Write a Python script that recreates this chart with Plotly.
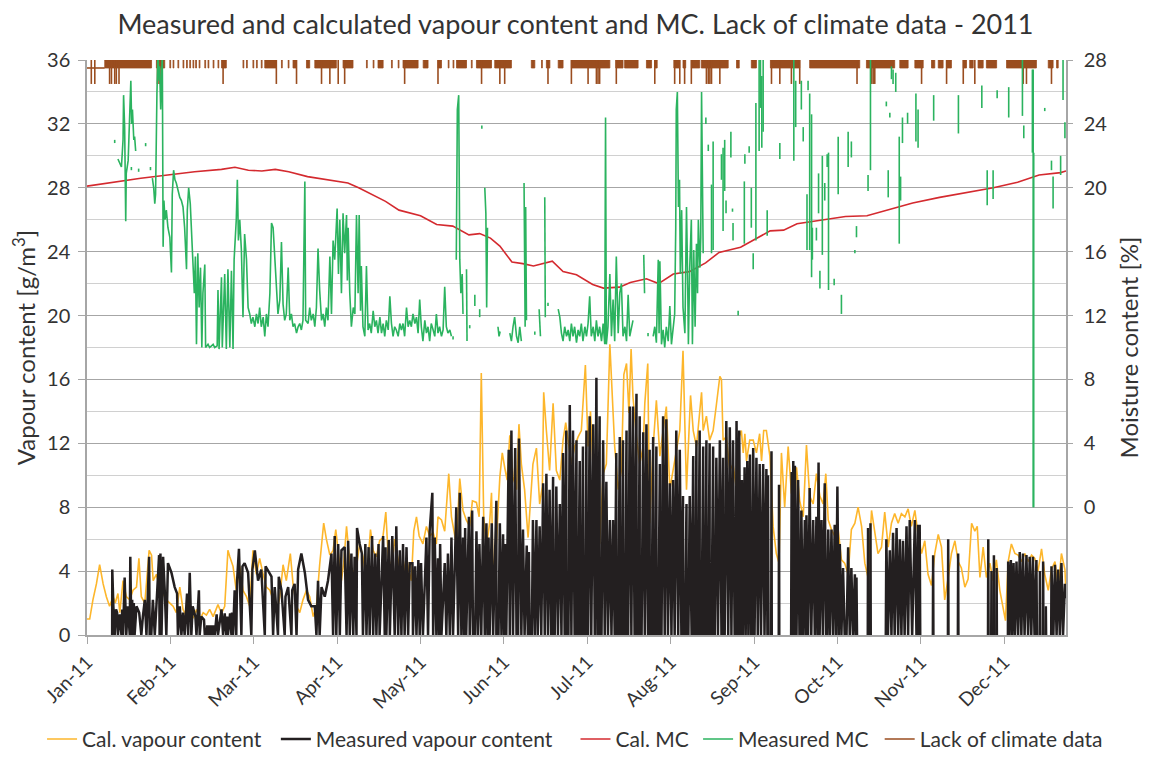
from datetime import datetime, timedelta
import plotly.graph_objects as go

START = datetime(2011, 1, 1)

# Cal. vapour content [g/m3]  (day of year offset, value)
CAL_VAPOUR = [
    (0, 1.0), (1, 1.0), (2.2, 2.2), (3.5, 3.2), (4.7, 4.4), (6, 3.2), (7.2, 2.4), (8.4, 1.8), (9.7, 2.4),
    (10.5, 2.0), (11.5, 2.6), (12.2, 1.4), (13.4, 3.4), (14.6, 2.4), (15.9, 2.2), (17.1, 2.8), (18.4, 3.0),
    (19.3, 4.8), (20.2, 2.4), (21.5, 2.0), (23.1, 5.3), (24, 5.0), (24.6, 3.4), (25.8, 3.8), (27, 3.0),
    (28.3, 2.6), (29.5, 2.2), (30.8, 2.0), (32, 1.8), (33.2, 1.4), (34.5, 3.0), (35.7, 1.6), (37, 1.15),
    (38.2, 1.4), (39.4, 1.05), (40.7, 1.6), (41.9, 0.95), (43.2, 1.4), (44.4, 1.25), (45.6, 1.6), (46.9, 1.15),
    (48.7, 1.9), (50, 1.35), (51.2, 1.8), (52.4, 5.3), (53.1, 4.9), (54.3, 4.3), (55.5, 2.8), (56.8, 4.3),
    (58, 2.8), (59.3, 2.4), (60.5, 1.8), (61.7, 5.3), (63, 3.8), (64.2, 4.8), (65.5, 3.8), (66.7, 3.0),
    (68, 2.8), (69.2, 2.2), (70.4, 1.4), (71.7, 2.4), (72.9, 4.4), (74.1, 3.4), (75.6, 5.1), (76.6, 3.2),
    (77.9, 1.8), (79.1, 1.4), (80.3, 2.2), (81.6, 2.8), (82.8, 2.4), (84.1, 1.15), (85.3, 1.8), (86.5, 4.4),
    (88, 7.0), (89, 6.0), (90.3, 5.0), (91.5, 5.3), (92.5, 6.6), (93.4, 5.1), (94.6, 3.4), (95.5, 4.6),
    (96.5, 6.8), (97.7, 4.5), (99, 3.9), (100.2, 4.3), (101.4, 5.7), (102.6, 4.9), (103.9, 3.4), (105.4, 6.6),
    (106.4, 5.3), (107.6, 4.9), (108.8, 5.9), (110, 6.1), (111.1, 7.7), (112, 4.9), (113.2, 4.1), (114.4, 6.0),
    (115.7, 4.7), (116.9, 3.2), (118, 4.2), (118.8, 4.9), (119.7, 4.0), (120.6, 3.4), (121.5, 6.5), (122.5, 7.4),
    (123.5, 6.2), (124.9, 5.7), (126.2, 6.8), (127.4, 6.2), (128.7, 6.4), (129.9, 5.7), (130.5, 7.4),
    (131.8, 7.2), (133, 6.5), (134.5, 10.1), (135.5, 7.4), (136.7, 6.4), (137.3, 5.7), (138.6, 9.8),
    (139.8, 7.8), (141, 7.2), (142.3, 6.8), (143.3, 8.4), (144.8, 8.3), (145.8, 7.4), (146.6, 16.4),
    (147.5, 7.4), (148.5, 5.5), (149.7, 7.0), (150.4, 8.9), (151, 3.8), (152.2, 5.7), (153.5, 9.9),
    (154.4, 11.4), (155.3, 10.5), (156.2, 9.7), (157.2, 12.5), (158.4, 9.9), (159.7, 9.1), (160.6, 13.2),
    (161.5, 10.7), (162.7, 9.1), (164, 6.1), (165.8, 10.7), (167.1, 11.7), (168.3, 8.2), (169.3, 9.3),
    (169.8, 15.2), (170.8, 12.8), (172, 10.3), (173.3, 14.5), (174.5, 10.3), (175.8, 9.7), (177, 12.2),
    (178, 13.3), (178.9, 12.2), (180.1, 10.7), (181.3, 11.8), (182.6, 12.4), (183.8, 12.8), (185.3, 16.9),
    (186.3, 11.8), (187.2, 14.0), (188.2, 10.3), (189.4, 8.2), (190.6, 5.7), (191.9, 10.1), (193.1, 10.7),
    (194.4, 18.2), (195, 16.0), (196.2, 11.8), (197.5, 9.1), (198.7, 10.3), (199.6, 16.3), (200.6, 17.0),
    (201.5, 13.9), (202.3, 17.9), (203, 14.9), (204.3, 12.4), (205.5, 10.7), (206.8, 11.8), (207.4, 14.5),
    (208.5, 17.0), (209.2, 7.0), (210.5, 11.8), (211.7, 14.7), (213, 11.2), (214.2, 12.8), (215.4, 14.3),
    (216.7, 9.1), (217.9, 10.3), (219.1, 11.6), (220.4, 12.8), (221.6, 17.8), (222.9, 9.1), (224.4, 15.0),
    (225.4, 12.8), (226.6, 11.8), (228.5, 15.2), (229.1, 12.8), (230.3, 13.7), (231.5, 12.2), (232.8, 12.8),
    (234, 14.4), (235.3, 16.2), (235.9, 16.0), (236.5, 12.2), (237.7, 12.4), (239, 10.3), (240.2, 10.7),
    (241.5, 9.1), (242.5, 12.4), (243.3, 12.8), (244, 11.4), (244.6, 12.6), (245.2, 10.9), (246.4, 12.2),
    (247.7, 12.2), (248.9, 11.4), (250.1, 12.6), (250.8, 10.9), (251.6, 12.8), (252.6, 12.8), (253.9, 11.2),
    (255.1, 6.8), (256.3, 5.1), (257.3, 4.5), (258.2, 11.4), (259.4, 8.0), (260.7, 11.8), (261.9, 8.9),
    (263.2, 8.2), (263.8, 10.5), (265, 8.4), (266.3, 7.4), (267.5, 11.9), (268.7, 8.7), (270, 8.2),
    (271.2, 10.1), (272.5, 8.7), (273.7, 8.2), (274.7, 10.1), (275.6, 7.2), (276.8, 6.6), (278, 6.2),
    (279.3, 6.6), (280.5, 4.7), (281.7, 4.5), (283, 3.8), (284.2, 6.6), (285.5, 7.0), (286.7, 8.0),
    (288, 6.8), (289.2, 4.5), (290.4, 3.6), (291.7, 7.8), (292.9, 6.5), (294.1, 5.1), (295.4, 5.5),
    (296.6, 7.7), (297.9, 5.5), (299.1, 7.0), (300.3, 7.6), (301.6, 7.0), (302.8, 7.6), (304.1, 7.4),
    (305.3, 7.9), (306.5, 6.8), (307.8, 7.8), (309, 6.3), (310.3, 5.1), (311.5, 5.9), (312.7, 3.8),
    (314, 3.1), (315.2, 5.1), (316.5, 6.3), (317.7, 5.5), (318.9, 2.2), (320.2, 3.6), (321.4, 5.1),
    (322.7, 5.9), (323.9, 4.6), (325.1, 4.2), (326.4, 3.0), (327.6, 3.5), (328.9, 7.0), (330.1, 6.5),
    (331, 6.8), (332, 3.6), (333.2, 5.5), (334.4, 3.6), (335.7, 4.5), (336.9, 3.4), (338.1, 4.7),
    (339.4, 2.8), (340.6, 1.8), (341.5, 0.9), (342.5, 4.6), (343.7, 5.7), (345, 5.1), (346.2, 5.0),
    (347.5, 4.6), (348.7, 5.1), (350, 4.6), (351.2, 5.0), (352.4, 4.8), (353.6, 4.0), (354.9, 5.4),
    (356.1, 3.8), (357.4, 2.8), (358.6, 4.1), (359.9, 4.6), (361.1, 3.0), (362.3, 5.1), (363.6, 4.1),
    (364, 2.5),
]

# Measured vapour content: readings of the upper envelope (None = no data) ...
MEAS_VAPOUR = [
    (9.4, 4.1), (9.8, 1.8), (10.8, 1.6), (11.2, 1.4), (12.2, 1.3), (13.1, 1.6), (14.0, 3.6), (15.2, 1.8),
    (16.1, 4.9), (16.8, 2.2), (17.4, 2.0), (18.4, 1.8), (19.4, 1.4), (20.8, 1.2), (21.5, 2.2), (22.6, 2.8),
    (23.1, 4.9), (24.5, 2.2), (25.8, 1.8), (26.5, 4.4), (26.8, 5.0), (27.3, 5.1), (28.3, 4.9), (28.9, 2.8),
    (30.1, 4.5), (31.4, 3.9), (32.6, 3.0), (33.5, 2.6), (34.5, 1.8), (35.7, 1.4), (37.2, 2.6), (38.2, 3.9),
    (39.3, 1.8), (40.3, 1.15), (41.6, 2.8), (42.5, 1.15), (43.5, 0.95), (44.7, 0.6), (45.3, 0.6), (45.9, 0.6),
    (46.6, 0.6), (47.2, 0.6), (48.2, 1.3), (50.0, 1.6), (51.2, 1.35), (52.1, 1.15), (53.2, 1.35), (53.9, 1.4),
    (54.9, 2.8), (55.8, 3.4), (56.5, 5.4), (57.8, 4.3), (58.6, 4.5), (59.9, 3.9), (61.5, 4.1), (62.4, 5.3),
    (63.6, 3.4), (64.8, 4.1), (66.4, 4.3), (67.3, 4.0), (68.6, 3.65), (69.8, 3.0), (71.3, 3.65), (72.3, 2.8),
    (73.8, 2.4), (74.8, 3.0), (76.3, 2.8), (77.2, 3.2), (78.5, 4.1), (79.7, 5.1), (81, 3.9), (82.2, 2.2),
    (83.4, 1.8), (84.7, 1.8), (85.9, 3.4), (87.2, 3.0), (88.4, 2.4), (89.6, 3.4), (90.9, 5.1), (92.1, 6.2),
    (93.4, 5.7), (94.6, 5.3), (95.8, 5.5), (97.1, 5.9), (98.3, 5.1), (99.5, 4.9), (100.4, 6.7), (101.4, 5.7),
    (102.2, 5.1), (103.5, 5.7), (104.7, 5.5), (106.0, 6.2), (107.2, 5.1), (108.4, 5.7), (110.1, 6.2),
    (111.0, 5.5), (112.2, 5.95), (113.5, 6.2), (115.0, 6.8), (116.3, 5.3), (117.5, 5.7), (118.8, 5.5),
    (120, 4.5), (121.0, 4.5), (122.0, 4.3), (123.2, 4.7),
    (124.2, 4.5), (126.2, 6.1), (127.4, 6.5), (128.4, 8.9), (129.3, 6.1), (130.5, 4.8), (131.3, 5.7),
    (133, 4.5), (134.2, 5.1), (135.5, 6.1), (137.3, 8.0), (138.6, 8.9), (139.8, 6.1), (140.6, 6.7),
    (142.0, 7.4), (143.2, 7.8), (144.8, 6.5), (145.9, 5.7), (147.3, 7.4), (148.5, 7.0), (149.3, 6.1),
    (150.5, 7.0), (152.2, 8.4), (153.5, 7.0), (154.7, 6.3), (155.6, 5.7), (156.8, 11.6), (157.8, 12.8),
    (159.2, 11.7), (160.6, 12.3), (162.1, 6.6), (163.5, 5.6), (164.3, 5.2), (165.8, 7.2), (167.1, 7.2),
    (168.3, 6.8), (169.6, 9.5), (170.8, 10.1), (172, 9.1), (173.3, 9.9), (174.5, 9.3), (175.8, 8.2),
    (177, 11.4), (178.2, 12.8), (179.5, 14.4), (180.7, 12.8), (182, 12.2), (183.2, 10.9), (184.4, 11.8),
    (185.7, 12.8), (186.9, 13.7), (188.2, 13.2), (189.4, 16.1), (190.6, 13.7), (191.9, 12.2), (193.1, 9.6),
    (194.4, 7.2), (195.6, 7.2), (196.8, 11.4), (198.1, 12.4), (199.3, 12.2), (200.6, 12.8), (201.8, 14.3),
    (203, 14.3), (204.3, 15.1), (205.5, 13.7), (206.8, 12.7), (208, 13.2), (209.2, 11.6), (210.5, 12.4),
    (211.7, 11.8), (213, 10.7), (214.2, 13.7), (215.4, 13.5), (216.7, 9.5), (217.9, 9.7), (219.1, 12.8),
    (220.4, 11.6), (221.6, 8.7), (222.9, 8.2), (224.1, 8.7), (225.4, 11.2), (226.6, 12.2), (227.8, 12.8),
    (229.1, 11.8), (230.3, 12.2), (231.5, 12.0), (232.8, 11.8), (234, 11.1), (235.3, 12.2), (236.5, 11.1),
    (237.7, 13.4), (239, 13.0), (240.2, 12.2), (241.5, 13.4), (242.5, 12.8),
    (243.5, 9.7), (244.5, 10.5), (245.5, 10.9), (246.5, 11.3), (247.7, 11.7), (248.9, 11.1), (250.1, 10.7),
    (251.4, 10.7), (252.6, 10.4), (253.2, 10.0), (253.5, None),
    (254.5, 11.5), (254.7, None), (257.3, 9.4), (257.5, None),
    (262.0, 10.2), (262.6, 10.9), (263.2, 10.6), (264.4, 9.7), (265.6, 7.8), (266.9, 7.2), (267.5, 7.5),
    (268.7, 9.2), (270, 7.2), (271.2, 7.4), (272, 10.8), (273.1, 7.2), (274.3, 9.5), (275.6, 6.6),
    (276.8, 6.6), (278, 6.9), (279, 9.3), (279.9, 5.7), (281.1, 4.2), (283, 5.5), (284.2, 4.2),
    (285.5, 3.8), (286.1, 3.6), (286.4, None),
    (290.4, 6.7), (290.6, None), (291.3, 7.0), (291.5, None),
    (297.2, 6.0), (298.5, 5.3), (299.7, 6.4), (301, 6.7), (302.2, 6.0), (303.4, 5.9), (304.7, 6.8),
    (305.9, 7.2), (307.8, 7.2), (309, 6.9), (309.6, 6.9), (309.9, None),
    (314.6, 5.0), (314.8, None), (320.2, 6.0), (320.4, None), (323.9, 5.1), (324.1, None),
    (335.1, 6.0), (335.3, None), (336.3, 4.0), (336.5, None), (337.2, 5.0), (337.4, None),
    (338.2, 4.2), (338.4, None),
    (342.5, 4.6), (343.5, 4.7), (344.5, 4.5), (345.6, 4.6), (346.8, 5.2), (348, 5.1), (349.3, 5.0),
    (350.5, 4.9), (351.7, 4.9), (353, 4.7), (353.3, None),
    (354.3, 4.0), (354.5, None), (355.5, 4.6), (355.7, None), (356.5, 1.8), (356.7, None),
    (358.6, 4.3), (359.9, 4.4), (361.1, 4.1), (362.3, 4.5), (363.6, 3.2), (364, 2.3),
]
# ... and the moments where the measured series drops to zero
MEAS_VAPOUR_ZERO = [
    9.35, 10.3, 11.5, 12.8, 13.4, 14.6, 15.9, 16.5, 17.1, 17.7, 20.2, 22.1, 23.3, 23.9, 25.2, 27.0, 27.7,
    29.5, 33.8, 35.1, 36.3, 37.6, 38.8, 40.7, 41.9, 43.8, 44.4, 45.0, 45.6, 46.2, 46.9, 47.5, 48.7, 50.6,
    51.8, 52.4, 53.7, 54.3, 55.5, 57.4, 61.1, 66.1, 69.2, 71.0, 73.5, 76.0, 77.9, 85.3, 86.5, 91.5, 92.7,
    94.0, 96.5, 97.7, 99.0, 100.2, 102.6, 103.9, 105.1, 106.4, 107.6, 108.8, 110.7, 111.3, 112.6, 114.4,
    115.7, 116.9, 118.1, 119.4, 121.2, 122.5, 123.7,
    124.9, 126.8, 128.7, 129.9, 130.9, 131.8, 133.6, 134.9, 136.1, 138.0, 139.2, 140.2, 141.0, 142.3,
    143.5, 144.3, 145.4, 146.6, 147.9, 148.9, 149.7, 151.0, 152.2, 153.0, 154.1, 155.1, 155.9, 157.2,
    158.4, 159.7, 160.3, 161.5, 162.7, 163.9, 164.6, 165.4, 166.5, 167.6, 168.9, 170.2, 171.4, 172.6,
    173.3, 173.9, 175.1, 176.4, 177.6, 178.2, 179.0, 180.1, 181.3, 182.0, 182.6, 183.2, 183.8, 184.4,
    185.1, 185.7, 186.3, 187.5, 188.8, 189.8, 190.6, 191.3, 192.5, 193.7, 195.0, 196.2, 196.8, 197.5,
    198.1, 198.7, 199.3, 200.0, 200.6, 201.2, 202.4, 203.6, 204.3, 205.0, 205.5, 206.2, 207.4, 208.6,
    209.2, 209.9, 210.5, 211.1, 211.7, 212.4, 213.0, 213.6, 214.8, 216.0, 217.3, 218.5, 219.8, 221.0,
    221.6, 222.3, 222.9, 223.6, 224.8, 225.4, 226.0, 226.6, 227.2, 227.8, 228.5, 229.1, 229.7, 230.3,
    230.9, 231.5, 232.2, 232.8, 233.4, 234.6, 235.9, 236.5, 237.1, 238.4, 239.6, 240.8, 241.2, 242.1,
    243.0, 243.9, 244.9, 245.9, 246.9, 247.3, 248.2, 249.4, 250.6, 251.9, 253.0, 253.4,
    254.4, 254.6, 257.2, 257.4, 261.8, 262.3, 262.9, 263.8, 264.9, 265.3, 266.2, 267.2, 268.1, 269.3,
    270.6, 271.6, 272.4, 273.6, 274.8, 275.2, 276.2, 277.4, 278.5, 279.5, 280.5, 281.7, 282.4, 283.6,
    284.8, 285.8, 286.3, 290.3, 290.5, 291.2, 291.4, 297.0, 297.8, 299.1, 300.3, 301.6, 302.8, 304.0,
    305.3, 306.8, 308.4, 309.3, 309.8, 314.5, 314.7, 320.1, 320.3, 323.8, 324.0, 335.0, 335.2, 336.2,
    336.4, 337.1, 337.3, 338.1, 338.3, 342.4, 343.0, 344.0, 345.0, 346.2, 347.4, 348.6, 349.9, 351.1,
    352.3, 353.2, 354.2, 354.4, 355.4, 355.6, 356.4, 356.6, 358.5, 359.3, 360.5, 361.7, 362.9,
]

# Cal. MC [%]
CAL_MC = [
    (0, 20.1), (10, 20.35), (20, 20.6), (30, 20.8), (40, 21.0), (50, 21.15), (55, 21.28), (60, 21.1),
    (65, 21.05), (70, 21.15), (75, 21.0), (82, 20.7), (90, 20.5), (97, 20.3), (101, 20.0), (106, 19.6),
    (111, 19.15), (116, 18.6), (124, 18.25), (130, 17.7), (136, 17.6), (142, 17.05), (146, 17.13),
    (150, 16.85), (153.5, 16.35), (158, 15.35), (162, 15.25), (166, 15.1), (173, 15.4), (177, 14.75),
    (182, 14.55), (188, 13.95), (192, 13.72), (198, 13.78), (202, 14.07), (208, 14.3), (212.5, 14.0),
    (218, 14.6), (224, 14.75), (230, 15.3), (235, 15.95), (243, 16.28), (248, 16.75), (254, 17.3),
    (259, 17.35), (264, 17.75), (269, 17.87), (277, 18.07), (282, 18.2), (290, 18.25), (298, 18.63),
    (307, 19.05), (317, 19.4), (327, 19.7), (337, 20.0), (346, 20.35), (354, 20.8), (362, 20.95), (364, 21.05),
]

# Measured MC [%]: connected stretches (None = gap) ...
MEAS_MC = [
    (11.5, 21.8), (12.2, 21.5), (12.8, 21.3), (13.4, 23.0), (13.6, 25.8), (14.0, 23.8), (14.4, 17.9),
    (14.6, 20.9), (15.3, 21.7), (15.6, 23.2), (16.3, 26.7), (16.6, 24.0), (16.9, 24.9), (17.4, 23.0),
    (17.7, 23.2), (18.1, 22.3), (18.2, None),
    (24.3, 20.6), (24.8, 20.0), (25.2, 19.0), (25.5, 19.6), (26.0, 25.9), (26.4, 28.5), (26.8, 26.7),
    (27.0, 27.6), (27.4, 24.9), (27.7, 26.3), (28.0, 28.5), (28.3, 16.3), (28.6, 19.2), (29.0, 18.0),
    (29.5, 18.6), (30.1, 17.5), (30.8, 16.9), (31.4, 14.7), (31.7, 19.6), (32.2, 21.1), (32.7, 20.5),
    (33.2, 20.3), (33.9, 19.8), (34.5, 19.4), (35.1, 19.2), (35.7, 18.8), (36.3, 17.5), (37.0, 14.9),
    (37.3, 18.6), (37.8, 20.0), (38.4, 19.0), (38.9, 17.1), (39.4, 16.1), (39.9, 13.4), (40.3, 15.7),
    (40.7, 10.2), (41.2, 15.9), (41.7, 12.5), (42.2, 15.0), (42.7, 10.0), (43.1, 13.4), (43.8, 15.2),
    (44.1, 10.0), (45.0, 10.2), (45.6, 10.0), (46.2, 10.1), (46.9, 10.2), (47.5, 10.0), (48.4, 10.1),
    (48.7, 13.6), (49.1, 9.9), (50.0, 14.4), (50.3, 10.0), (51.2, 14.6), (51.8, 9.9), (52.4, 14.9),
    (53.1, 10.0), (53.7, 14.8), (54.3, 9.9), (54.7, 15.5), (55.2, 17.1), (55.5, 18.0), (55.9, 20.5),
    (56.3, 16.7), (56.8, 18.0), (57.4, 16.1), (58.0, 11.9), (58.6, 17.1), (59.3, 15.5), (59.9, 12.5),
    (60.5, 12.1), (61.1, 11.5), (61.7, 11.9), (62.4, 11.3), (63.0, 12.1), (63.6, 11.5), (64.2, 12.5),
    (64.8, 11.3), (65.5, 11.9), (66.1, 10.7), (66.7, 12.1), (67.3, 11.3), (68.0, 13.4), (68.6, 17.8),
    (69.2, 17.5), (69.8, 15.5), (70.4, 13.4), (71.0, 12.1), (71.7, 13.0), (72.3, 16.6), (72.9, 12.7),
    (73.5, 11.7), (74.1, 12.1), (74.8, 15.0), (75.4, 11.7), (76.0, 12.1), (76.6, 11.3), (77.2, 11.5),
    (77.9, 10.9), (78.5, 11.3), (79.1, 11.5), (79.7, 11.1), (80.3, 11.7), (81.0, 20.4), (81.3, 11.7),
    (82.2, 11.5), (82.8, 12.5), (83.4, 11.7), (84.1, 12.1), (84.7, 11.3), (85.3, 12.5), (85.9, 16.2),
    (86.5, 13.6), (87.2, 11.7), (87.8, 12.1), (88.4, 11.3), (89.0, 12.5), (89.6, 11.7), (90.3, 15.7),
    (90.9, 12.1), (91.5, 16.7), (92.1, 15.5), (93.0, 18.7), (93.5, 14.6), (94.0, 18.0), (94.6, 13.4),
    (95.2, 18.4), (95.8, 15.9), (96.5, 18.3), (96.8, 14.2), (97.1, 17.5), (97.7, 13.4), (98.3, 11.3),
    (99.0, 12.5), (99.6, 12.1), (100.2, 18.3), (100.8, 13.4), (101.2, 18.3), (101.7, 12.3), (102.0, 15.1),
    (102.6, 11.3), (103.3, 10.7), (103.9, 15.1), (104.5, 11.1), (105.1, 11.5), (105.7, 10.9), (106.4, 12.3),
    (107.0, 11.3), (107.6, 11.7), (108.2, 10.9), (108.9, 11.9), (109.5, 10.9), (110.1, 11.5), (110.7, 10.7),
    (111.3, 11.7), (112.0, 11.1), (112.6, 13.2), (113.2, 11.5), (113.8, 10.7), (114.4, 11.3), (115.0, 11.1),
    (115.7, 10.7), (116.3, 11.5), (116.9, 11.1), (117.5, 11.5), (118.1, 10.7), (118.8, 12.5), (119.4, 11.3),
    (120.0, 11.7), (120.6, 11.3), (121.2, 12.1), (121.9, 11.5), (122.5, 11.9), (123.1, 10.9), (123.7, 13.0),
    (124.3, 11.3), (124.9, 10.4), (125.6, 11.7), (126.2, 10.9), (126.8, 11.3), (127.4, 10.4), (128.0, 11.5),
    (128.7, 11.1), (129.3, 10.7), (129.9, 12.1), (130.5, 10.9), (131.1, 11.3), (131.8, 10.7), (132.4, 11.1),
    (133.0, 13.8), (133.6, 11.3), (134.2, 10.9), (134.9, 11.1), (135.5, 10.7), (135.6, None),
    (137.3, 15.5), (137.7, 24.9), (138.2, 25.8), (138.6, 15.5), (139.0, 13.4), (139.5, 14.6), (139.8, 12.1),
    (139.9, None), (141.1, 14.9), (141.3, 10.4), (141.4, None),
    (147.9, 20.0), (148.3, 18.4), (148.6, 12.5), (148.9, 17.5), (149.0, None),
    (152.8, 11.3), (153.2, 10.7), (153.6, 11.0), (153.7, None),
    (157.2, 10.9), (157.8, 10.4), (158.4, 11.3), (159.0, 11.9), (159.7, 10.7), (160.3, 10.3), (160.9, 11.3),
    (161.5, 10.4), (161.6, None),
    (162.5, 20.3), (162.9, 11.3), (163.1, 18.8), (163.4, 11.7), (163.5, None),
    (168.1, 12.4), (168.6, 10.7), (168.7, None), (170.2, 19.4), (170.4, 11.9), (170.5, None),
    (175.2, 12.4), (175.8, 11.9), (176.4, 10.9), (177.0, 10.4), (177.6, 11.3), (178.3, 10.7), (178.9, 11.1),
    (179.5, 10.4), (180.1, 11.5), (180.7, 10.7), (181.3, 11.3), (182.0, 10.3), (182.6, 11.1), (183.2, 10.7),
    (183.8, 11.5), (184.4, 10.4), (185.1, 11.3), (185.7, 10.7), (186.3, 11.5), (186.9, 13.2), (187.5, 10.7),
    (188.2, 11.3), (188.8, 10.4), (189.4, 11.7), (190.0, 10.7), (190.6, 11.3), (191.3, 10.4), (191.9, 11.5),
    (192.5, 10.2), (192.8, 24.4), (193.1, 10.2), (193.7, 11.3), (194.4, 14.6), (195.0, 10.7), (195.6, 13.0),
    (196.2, 10.4), (196.8, 15.7), (197.5, 10.9), (198.1, 13.4), (198.7, 14.0), (199.3, 10.7), (200.0, 11.3),
    (200.6, 10.4), (201.2, 13.3), (201.8, 10.7), (202.4, 11.3), (203.0, 11.7), (203.1, None),
    (207.0, 15.8), (207.3, 13.4), (207.4, None),
    (210.5, 10.7), (211.1, 11.3), (211.7, 10.3), (212.4, 15.5), (212.7, 10.9), (213.0, 15.4), (213.6, 10.2),
    (214.2, 11.1), (214.8, 10.0), (215.4, 11.3), (216.1, 10.4), (216.7, 12.6), (217.3, 10.2), (217.9, 11.1),
    (218.5, 12.1), (218.9, 17.5), (219.1, 24.9), (219.5, 26.0), (219.9, 18.8), (220.3, 20.5), (220.6, 14.6),
    (221.1, 18.6), (221.6, 12.5), (222.3, 10.9), (222.9, 18.8), (223.3, 14.6), (223.6, 10.2), (224.1, 15.0),
    (224.7, 18.0), (225.1, 10.2), (225.6, 16.1), (226.1, 11.3), (226.6, 16.5), (227.0, 13.4), (227.3, 18.0),
    (227.9, 15.0), (228.2, 16.9), (228.5, 26.0), (228.8, 21.7), (229.1, 15.9),
]
# ... and short isolated strokes (day, low, high)
MEAS_MC_STROKES = [
    (10.3, 22.8, 23.0), (16.5, 21.1, 21.3), (19.2, 21.0, 21.2), (21.8, 22.6, 22.8), (23.6, 21.1, 21.3),
    (136.1, 10.5, 10.7), (142.3, 11.2, 11.4), (144.2, 12.6, 13.3), (146.0, 11.9, 12.4), (146.8, 23.7, 23.9),
    (166.5, 10.8, 11.0), (171.4, 12.6, 12.8), (208.6, 10.7, 10.9),
    (230.1, 24.0, 24.4), (231.0, 22.3, 22.7), (232.2, 15.9, 20.2), (232.8, 16.1, 22.9), (235.9, 20.5, 22.1),
    (236.5, 17.3, 22.5), (237.1, 19.8, 23.0), (237.6, 18.4, 19.2), (239.4, 21.9, 23.5), (240.0, 18.5, 18.7),
    (240.2, 16.7, 17.8), (242.1, 12.0, 12.3), (244.4, 16.5, 20.4), (244.6, 21.5, 22.1), (246.2, 22.2, 22.6),
    (247.0, 17.5, 20.0), (247.7, 14.9, 15.9), (248.7, 16.7, 25.3), (249.9, 22.3, 28.5), (250.4, 25.0, 28.5),
    (250.9, 22.5, 27.0), (251.4, 23.5, 28.5), (252.9, 17.0, 18.6), (257.6, 21.8, 22.8), (262.8, 21.7, 28.5),
    (263.5, 23.8, 26.7), (265.6, 24.9, 26.7), (266.3, 22.9, 23.8), (267.7, 16.1, 19.6), (268.1, 26.1, 26.7),
    (268.7, 16.1, 25.9), (269.4, 14.4, 24.6), (269.7, 15.5, 17.5), (271.2, 16.7, 17.5), (272.0, 18.4, 20.9),
    (272.5, 13.7, 14.8), (273.4, 15.8, 22.0), (274.3, 19.2, 20.3), (275.2, 21.3, 22.1), (275.7, 13.6, 22.2),
    (277.8, 13.9, 14.3), (279.3, 19.6, 23.2), (280.5, 12.1, 13.3), (283.0, 21.3, 23.5), (284.2, 21.9, 22.9),
    (285.5, 15.9, 16.1), (286.1, 16.9, 17.6), (290.4, 19.8, 20.8), (291.3, 21.1, 28.5), (297.2, 25.1, 25.4),
    (297.9, 19.4, 21.1), (298.5, 24.4, 24.7), (299.1, 26.8, 27.6), (299.7, 26.5, 27.4), (300.7, 26.0, 27.2),
    (302.0, 16.5, 23.2), (302.5, 19.2, 20.7), (303.2, 22.8, 24.4), (305.1, 24.0, 24.7), (308.2, 22.9, 25.9),
    (309.0, 22.5, 24.9), (314.8, 24.2, 25.8), (324.0, 23.4, 25.8), (332.7, 25.0, 26.4), (334.7, 18.9, 21.1),
    (336.9, 19.3, 21.1), (338.4, 25.6, 26.1), (342.7, 24.4, 26.3), (347.8, 24.5, 28.5), (348.3, 23.1, 23.9),
    (351.5, 22.2, 27.4), (351.8, 0.0, 27.4), (352.0, 0.0, 22.2), (356.1, 24.8, 25.0), (358.6, 21.1, 21.7),
    (359.2, 18.7, 20.7), (362.0, 20.8, 22.0), (362.9, 25.5, 28.5), (363.6, 23.1, 24.1),
]

# Lack of climate data (left axis levels) and the periods flagged
LACK_TOP = 36.0
LACK_BASE = 35.5
LACK_DEEP = 34.5
LACK_START_LINE = [(0, 35.5), (6.6, 35.5)]
LACK_PERIODS = [
    (6.6, 24.0), (25.8, 28.9), (30.8, 31.1), (32.0, 32.3), (33.8, 34.1), (35.7, 36.0), (37.0, 37.3),
    (38.2, 38.5), (39.4, 39.7), (40.4, 40.7), (41.7, 42.0), (43.8, 44.1), (45.0, 45.3), (46.9, 47.2),
    (48.7, 49.0), (50.0, 51.8), (58.0, 58.3), (59.3, 59.6), (61.7, 62.0), (63.0, 63.3), (64.8, 65.1),
    (66.1, 70.4), (72.3, 72.6), (74.8, 75.1), (76.6, 77.9), (81.6, 82.8), (84.7, 92.7), (95.2, 98.9),
    (103.9, 104.2), (106.4, 106.7), (108.2, 110.1), (113.2, 113.5), (115.7, 116.0), (117.5, 123.1),
    (125.0, 126.8), (130.5, 131.8), (134.3, 134.6), (136.1, 136.4), (137.4, 141.1), (142.9, 143.2),
    (144.8, 150.4), (151.6, 157.8), (165.2, 166.5), (169.0, 169.3), (170.8, 172.1), (175.2, 177.0),
    (180.1, 194.4), (196.6, 199.3), (199.9, 204.9), (208.0, 209.9), (211.1, 212.0), (218.2, 220.4),
    (221.6, 222.6), (224.7, 227.8), (228.4, 238.4), (241.5, 242.5), (247.0, 248.9), (254.1, 265.0),
    (268.7, 287.3), (289.8, 300.3), (302.2, 305.3), (307.8, 310.9), (314.0, 315.2), (316.5, 318.3),
    (319.6, 321.4), (325.8, 327.0), (328.2, 329.5), (331.3, 333.2), (334.4, 338.2), (341.9, 353.0),
    (357.4, 359.2), (360.5, 361.1),
]
LACK_DEEP_DAYS = [
    1.6, 2.9, 8.4, 9.1, 10.3, 10.9, 11.9, 26.2, 26.8, 27.5, 50.6, 70.4, 77.9, 87.2, 90.3, 93.4, 95.8,
    118.1, 130.5, 146.7, 153.5, 155.3, 171.4, 180.1, 186.3, 189.4, 190.0, 190.6, 196.8, 211.1, 218.5,
    220.4, 222.2, 224.7, 230.3, 231.0, 231.6, 232.2, 235.3, 254.5, 257.6, 261.9, 265.0, 286.3, 291.7,
    292.3, 292.9, 310.3, 319.6, 325.8, 330.1, 348.1, 349.3, 358.6,
]

TITLE = "Measured and calculated vapour content and MC. Lack of climate data - 2011"
C_YEL, C_BLK, C_RED, C_GRN, C_BRN = "#FDB62B", "#231F20", "#D42A2F", "#2BB35F", "#9A4D1F"
GRID = "#A6A6A6"
TXT = "#333333"
# left edge of each legend entry along the bottom row (fraction of the figure width)
LEGEND_X = [0.030, 0.236, 0.500, 0.608, 0.768]


def day(d):
    return START + timedelta(days=d)


def xy(points):
    return [day(d) for d, _ in points], [v for _, v in points]


# measured vapour: envelope readings merged with the zero drops, in time order
meas = sorted(MEAS_VAPOUR + [(z, 0.0) for z in MEAS_VAPOUR_ZERO], key=lambda p: p[0])

gx, gy = xy(MEAS_MC)
gx.append(None); gy.append(None)
for d, lo, hi in MEAS_MC_STROKES:
    gx += [day(d), day(d), None]
    gy += [lo, hi, None]

bx, by = [], []
for s, e in LACK_PERIODS:
    bx += [day(s), day(e), day(e), day(s), day(s), None]
    by += [LACK_BASE, LACK_BASE, LACK_TOP, LACK_TOP, LACK_BASE, None]

tx, ty = xy(LACK_START_LINE)
tx.append(None); ty.append(None)
for d in LACK_DEEP_DAYS:
    tx += [day(d), day(d), None]
    ty += [LACK_DEEP, LACK_TOP, None]

fig = go.Figure()
x, y = xy(CAL_VAPOUR)
fig.add_trace(go.Scatter(x=x, y=y, mode="lines", name="Cal. vapour content",
                         line=dict(color=C_YEL, width=1.6), legend="legend"))
x, y = xy(meas)
fig.add_trace(go.Scatter(x=x, y=y, mode="lines", name="Measured vapour content",
                         line=dict(color=C_BLK, width=2.5), legend="legend2"))
fig.add_trace(go.Scatter(x=bx, y=by, mode="lines", fill="toself", fillcolor=C_BRN,
                         line=dict(color=C_BRN, width=0.8), showlegend=False, hoverinfo="skip"))
fig.add_trace(go.Scatter(x=tx, y=ty, mode="lines", name="Lack of climate data",
                         line=dict(color=C_BRN, width=1.6), legend="legend5"))
x, y = xy(CAL_MC)
fig.add_trace(go.Scatter(x=x, y=y, mode="lines", name="Cal. MC", yaxis="y2",
                         line=dict(color=C_RED, width=1.6), legend="legend3"))
fig.add_trace(go.Scatter(x=gx, y=gy, mode="lines", name="Measured MC", yaxis="y2",
                         line=dict(color=C_GRN, width=1.6), legend="legend4"))

legends = {}
for i, lx in enumerate(LEGEND_X):
    key = "legend" if i == 0 else f"legend{i + 1}"
    legends[key] = dict(orientation="h", x=lx, xanchor="left", xref="container",
                        y=0.017, yanchor="middle", yref="container",
                        font=dict(size=21, color=TXT), bgcolor="rgba(0,0,0,0)")

# the page body adds an 8 px offset, so the figure is sized to fit inside the window
fig.update_layout(
    width=1135, height=744,
    margin=dict(l=79, r=77, t=52, b=117),
    paper_bgcolor="white", plot_bgcolor="white",
    font=dict(family="Lato, 'Open Sans', sans-serif", color=TXT, size=18),
    title=dict(text=TITLE, x=0.5, xanchor="center", y=0.978, yanchor="middle",
               font=dict(size=27, color=TXT)),
    xaxis=dict(type="date", range=[day(0), day(364)], tick0="2011-01-01", dtick=31 * 86400000,
               tickformat="%b-%y", tickangle=-45, ticks="outside", ticklen=7, tickcolor=GRID,
               showline=True, linecolor=GRID, linewidth=1.5, showgrid=False, zeroline=False,
               tickfont=dict(size=19), automargin=False),
    yaxis=dict(range=[0, 36], dtick=4, ticks="outside", ticklen=7, tickcolor=GRID,
               showline=True, linecolor=GRID, linewidth=1.5, gridcolor=GRID, gridwidth=1.3,
               minor=dict(dtick=2, showgrid=True, gridcolor="#D0D0D0", gridwidth=1.3),
               zeroline=False, tickfont=dict(size=20), automargin=False, ticklabelstandoff=4,
               title=dict(text="Vapour content [g/m<sup>3</sup>]", font=dict(size=24), standoff=22)),
    yaxis2=dict(overlaying="y", side="right", range=[-8, 28], tickvals=[0, 4, 8, 12, 16, 20, 24, 28],
                ticks="outside", ticklen=5, tickcolor=GRID, showline=True, linecolor=GRID,
                linewidth=1.5, showgrid=False, zeroline=False, tickfont=dict(size=20), automargin=False,
                ticklabelstandoff=7,
                title=dict(text="Moisture content [%]", font=dict(size=24), standoff=21)),
    **legends,
)

fig.write_html("out.html")
